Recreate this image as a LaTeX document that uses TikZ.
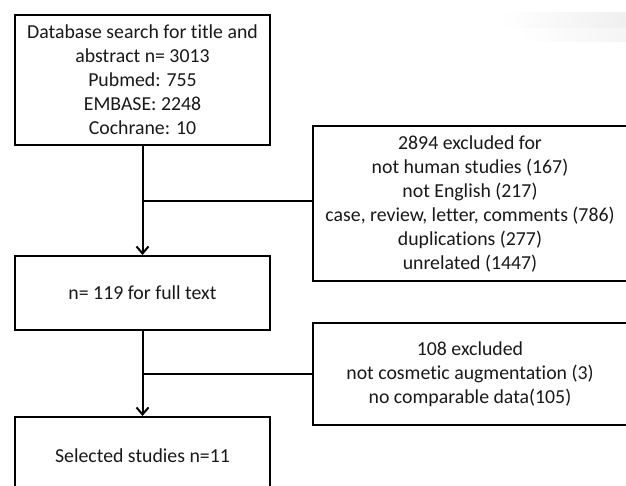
\documentclass[tikz,border=0pt]{standalone}
\usepackage{fontspec}
\setmainfont{Carlito}[Ligatures=NoCommon]
\usetikzlibrary{arrows.meta,fadings}
\begin{document}
\begin{tikzpicture}[x=1pt,y=-1pt,
  box/.style={draw=black, line width=2pt, align=center, inner sep=0pt,
    font=\fontsize{19.8}{24}\selectfont, text=black!90},
  conn/.style={line width=2pt, draw=black},
  arr/.style={conn, -{Straight Barb[length=7pt,width=12pt,line width=2pt]}}]
\clip (0,0) rectangle (626,486);
\fill[white] (0,0) rectangle (626,486);
\fill[black!6, path fading=west] (505,12) rectangle (626,28);
\fill[black!4, path fading=west] (525,28) rectangle (626,42);
\node[box, minimum width=255pt, minimum height=130pt] (search) at (142.5,80)
  {Database search for title and\\abstract n= 3013\\Pubmed: 755\\EMBASE: 2248\\Cochrane: 10};
\node[box, minimum width=315pt, minimum height=154pt] (excl1) at (470,203.5)
  {2894 excluded for\\not human studies (167)\\not English (217)\\case, review, letter, comments (786)\\duplications (277)\\unrelated (1447)};
\node[box, minimum width=255pt, minimum height=74pt] (full) at (142.5,293)
  {n= 119 for full text};
\node[box, minimum width=315pt, minimum height=102pt] (excl2) at (470,374)
  {108 excluded\\not cosmetic augmentation (3)\\no comparable data(105)};
\node[box, minimum width=255pt, minimum height=78pt] (sel) at (142.5,456)
  {Selected studies n=11};
\draw[arr] (search.south) -- (full.north);
\draw[conn] (excl1.west |- 0,201) -- (search.south |- 0,201);
\draw[arr] (full.south) -- (sel.north);
\draw[conn] (excl2.west) -- (excl2.west -| full.south);
\end{tikzpicture}
\end{document}
